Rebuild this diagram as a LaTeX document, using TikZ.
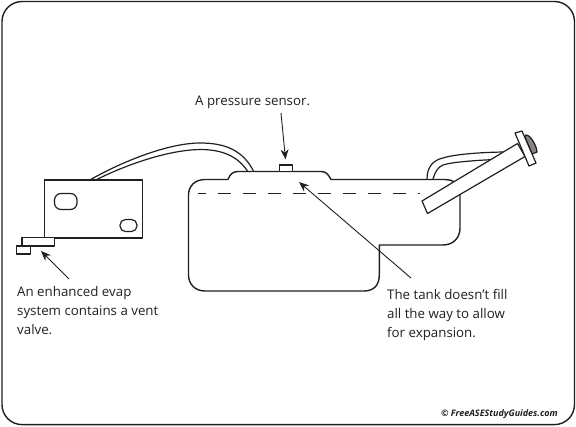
\documentclass[tikz,border=0pt]{standalone}
\usepackage{fontspec}
\setmainfont{Open Sans}
\usetikzlibrary{arrows.meta}
\definecolor{ink}{HTML}{231F20}
\tikzset{
  part/.style={draw=ink,line width=1.4pt,fill=white,line join=round},
  thin part/.style={draw=ink,line width=1.2pt,fill=white,line join=round},
  pipe/.style={draw=ink,line width=1.2pt},
  leader/.style={draw=ink,line width=0.9pt,-{Stealth[length=10pt,width=8pt]}},
  label/.style={inner sep=0pt,anchor=base west,align=left,font=\fontsize{13.3pt}{18.7pt}\selectfont,text=ink}
}
\begin{document}
\begin{tikzpicture}[x=1pt,y=-1pt]
\useasboundingbox (0,0) rectangle (576,426);
\fill[white] (0,0) rectangle (576,426);
\draw[draw=ink,line width=1.4pt,rounded corners=20pt] (2,1.5) rectangle (574.5,424.6);
% pipes
\draw[pipe] (90.7,179.5) .. controls (125,160) and (170,143) .. (200,143) .. controls (225,143) and (243,150) .. (254,172);
\draw[pipe] (96.7,179.5) .. controls (130,163) and (170,150) .. (200,149.5) .. controls (222,149.5) and (238,156) .. (248,172);
\draw[pipe] (427,179) .. controls (427,166) and (434,160) .. (443,158) .. controls (455,154) and (485,152) .. (508,152);
\draw[pipe] (433,179) .. controls (435,172) and (438,167) .. (443,165) .. controls (452,162) and (475,160.5) .. (494,159.5);
% vent valve body
\node[part,minimum width=98.4pt,minimum height=58pt,inner sep=0pt] (body) at (93.5,208.8) {};
\draw[thin part,rounded corners=6.5pt] (54.5,193.5) rectangle (77,209.5);
\draw[thin part,rounded corners=5.5pt] (120,219.5) rectangle (137,231.5);
\node[thin part,minimum width=32.3pt,minimum height=8.3pt,inner sep=0pt] (vent) at (38.2,241.9) {};
\node[thin part,minimum width=14pt,minimum height=8pt,inner sep=0pt] (tip) at (23.7,250) {};
% tank
\draw[part] (228,179.5) -- (205,179.5) .. controls (195,179.5) and (188.5,186) .. (188.5,195) -- (188.5,275)
  .. controls (188.5,284) and (195,291) .. (205,291) -- (364,291)
  .. controls (374,291) and (379.3,285) .. (379.3,275) -- (379.3,245) -- (443,245)
  .. controls (453,245) and (460,238) .. (460,228) -- (460,190) .. controls (460,183) and (452,179.5) .. (445,179.5)
  -- (331,179.5) .. controls (328,174) and (326,171.5) .. (321,171.5) -- (238,171.5)
  .. controls (233,171.5) and (230,174) .. (228,179.5);
\node[thin part,minimum width=13.4pt,minimum height=6.7pt,inner sep=0pt] (sensor) at (286,168.3) {};
\draw[draw=ink,line width=0.8pt,dash pattern=on 13pt off 12pt,dash phase=5pt] (197.5,193.5) -- (420,193.5);
% filler neck
\draw[thin part] (422,201) -- (517.5,143.5) -- (525,156.5) -- (427.5,213.5) -- cycle;
\draw[draw=ink,line width=1.2pt,fill=ink!55] (526,135) .. controls (531,135) and (537,147) .. (537,152) -- (532,154) -- (525,137) -- cycle;
\draw[thin part] (515,133) -- (522,131) -- (536,163) -- (529,166) -- cycle;
% labels
\node[label] (l1) at (195,105.5) {A pressure sensor.};
\node[label] (l2) at (17,334) {An enhanced evap\\system contains a vent\\valve.};
\node[label] (l3) at (387,337) {The tank doesn’t fill\\all the way to allow\\for expansion.};
\node[inner sep=0pt,anchor=base east,font=\fontsize{9pt}{10pt}\bfseries\itshape\selectfont,text=ink] (cr) at (558,416) {© FreeASEStudyGuides.com};
% leaders
\coordinate (a1) at (281,113);
\coordinate (a2) at (69,279);
\coordinate (a3) at (411,278);
\draw[leader,shorten >=5pt] (a1) -- (sensor.north);
\draw[leader] (a2) -- (41,251);
\draw[leader] (a3) -- (299,182);
\end{tikzpicture}
\end{document}
